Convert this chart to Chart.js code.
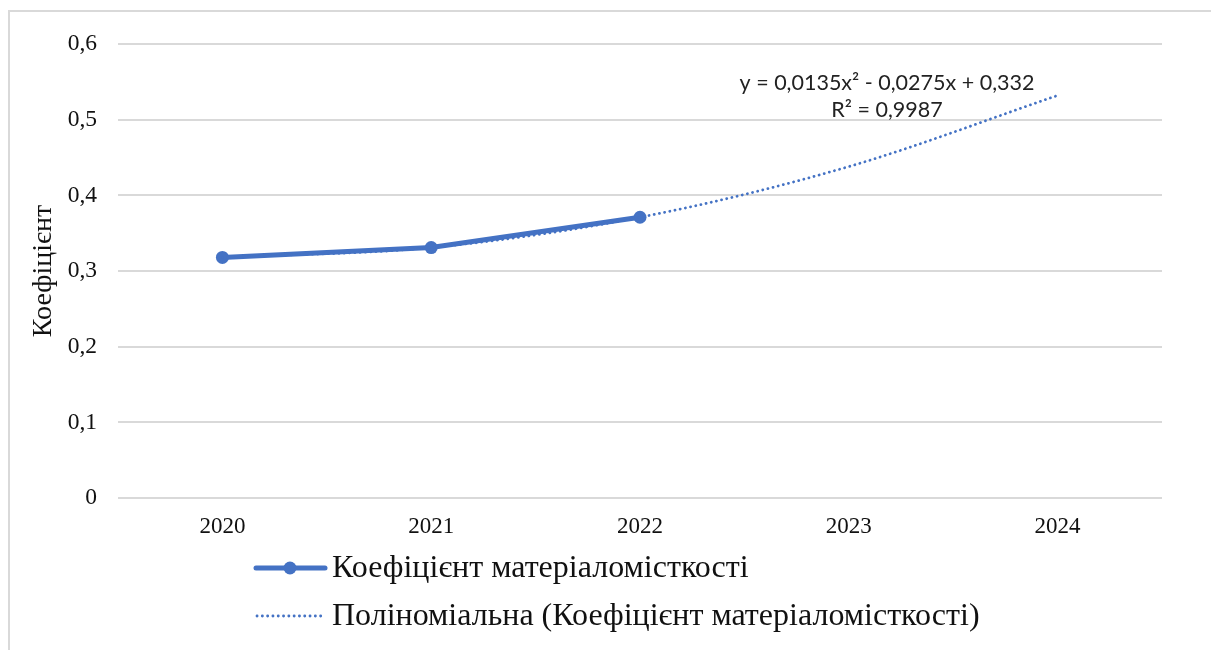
<!DOCTYPE html>
<html lang="uk">
<head>
<meta charset="utf-8">
<script src="https://cdn.jsdelivr.net/npm/chart.js@4"></script>
<style>
  html, body { margin: 0; padding: 0; background: #fff; }
  #wrap { position: relative; width: 1211px; height: 650px; }
  #frame {
    position: absolute; left: 8px; top: 10px; right: -4px; bottom: -4px;
    border-left: 2px solid #d9d9d9; border-top: 2px solid #d9d9d9;
    pointer-events: none;
  }
</style>
</head>
<body>
<div id="wrap">
  <canvas id="chart" width="1211" height="650"></canvas>
  <div id="frame"></div>
</div>
<script>
// data
const years = ['2020', '2021', '2022', '2023', '2024'];
const coefValues = [0.318, 0.331, 0.371, null, null];
const trendValues = [0.318, 0.331, 0.371, 0.438, 0.532];
const seriesName = 'Коефіцієнт матеріаломісткості';
const trendName = 'Поліноміальна (Коефіцієнт матеріаломісткості)';
const equationLines = ['y = 0,0135x² - 0,0275x + 0,332', 'R² = 0,9987'];

const blue = '#4472C4';
const serif = '"Liberation Serif", "Times New Roman", serif';

function fmt(v) {
  return v === 0 ? '0' : v.toFixed(1).replace('.', ',');
}

// legend + trendline equation drawn by hand (stacked like Excel)
const extras = {
  id: 'extras',
  afterDraw(chart) {
    const ctx = chart.ctx;
    ctx.save();

    // equation
    ctx.fillStyle = '#222';
    ctx.font = '21.5px Lato, "Open Sans", sans-serif';
    ctx.textAlign = 'center';
    ctx.textBaseline = 'middle';
    ctx.fillText(equationLines[0], 887, 83);
    ctx.fillText(equationLines[1], 887, 110);

    // legend row 1
    ctx.strokeStyle = blue;
    ctx.lineWidth = 5;
    ctx.lineCap = 'round';
    ctx.beginPath();
    ctx.moveTo(256, 568);
    ctx.lineTo(325, 568);
    ctx.stroke();
    ctx.fillStyle = blue;
    ctx.beginPath();
    ctx.arc(290, 568, 6.5, 0, Math.PI * 2);
    ctx.fill();

    // legend row 2
    ctx.lineWidth = 2.8;
    ctx.setLineDash([0.1, 5.2]);
    ctx.beginPath();
    ctx.moveTo(257, 616);
    ctx.lineTo(324, 616);
    ctx.stroke();
    ctx.setLineDash([]);

    ctx.fillStyle = '#111';
    ctx.font = '32px ' + serif;
    ctx.textAlign = 'left';
    ctx.fillText(seriesName, 332, 569);
    ctx.fillText(trendName, 332, 617);
    ctx.restore();
  }
};

new Chart(document.getElementById('chart'), {
  type: 'line',
  data: {
    labels: years,
    datasets: [
      {
        label: trendName,
        data: trendValues,
        borderColor: blue,
        borderWidth: 2.8,
        borderDash: [0.1, 5.2],
        borderCapStyle: 'round',
        cubicInterpolationMode: 'monotone',
        pointRadius: 0,
        fill: false
      },
      {
        label: seriesName,
        data: coefValues,
        borderColor: blue,
        backgroundColor: blue,
        borderWidth: 5,
        borderCapStyle: 'round',
        pointRadius: 6.5,
        pointBorderWidth: 0,
        tension: 0,
        fill: false
      }
    ]
  },
  options: {
    responsive: false,
    animation: false,
    events: [],
    layout: { padding: { left: 0, top: 44, right: 49, bottom: 0 } },
    plugins: {
      legend: { display: false },
      tooltip: { enabled: false }
    },
    scales: {
      x: {
        offset: true,
        grid: { display: false, drawTicks: false },
        border: { display: false },
        ticks: {
          padding: 15,
          color: '#111',
          font: { family: serif, size: 23 }
        },
        afterFit(scale) { scale.height = 152; }
      },
      y: {
        min: 0,
        max: 0.6,
        grid: { color: '#d9d9d9', lineWidth: 2, drawTicks: false },
        border: { display: false },
        ticks: {
          stepSize: 0.1,
          padding: 21,
          color: '#111',
          font: { family: serif, size: 23.5 },
          callback: v => fmt(v)
        },
        title: {
          display: true,
          text: 'Коефіцієнт',
          color: '#111',
          font: { family: serif, size: 28 },
          padding: { top: 27, bottom: 0 }
        },
        afterFit(scale) { scale.width = 118; }
      }
    }
  },
  plugins: [extras]
});
</script>
</body>
</html>
